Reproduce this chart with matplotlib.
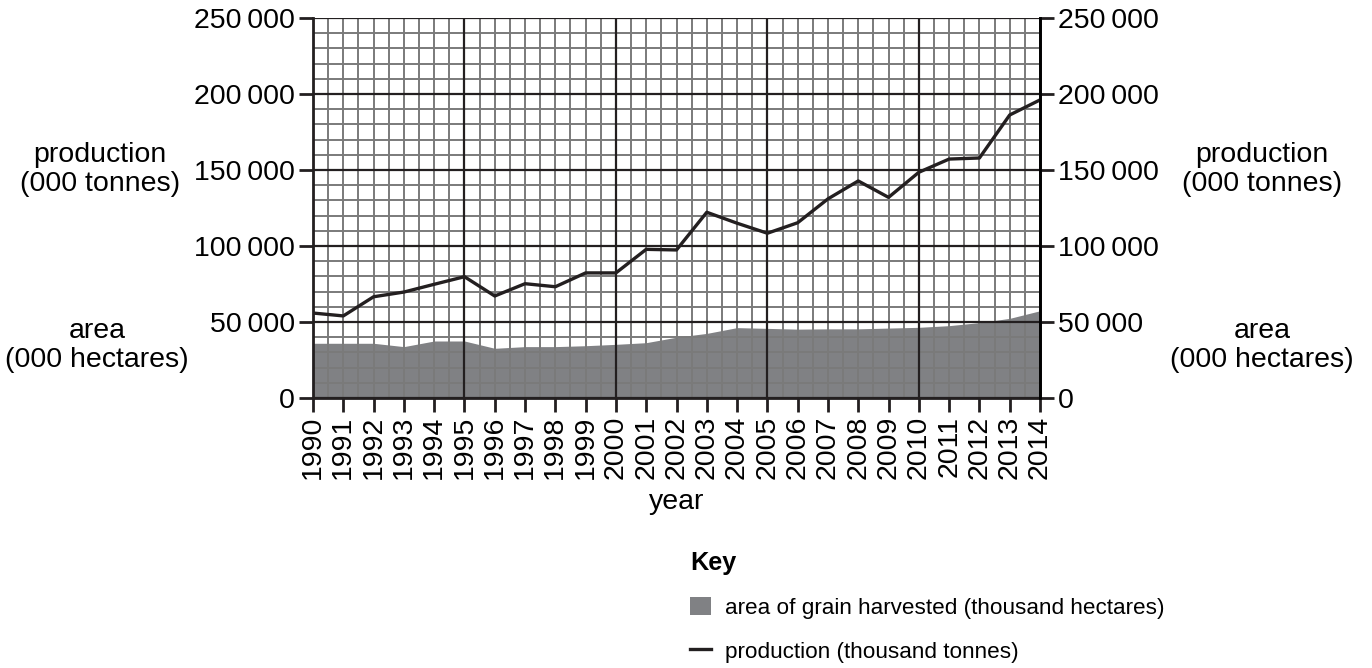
import matplotlib
matplotlib.use("Agg")
import matplotlib.pyplot as plt
from matplotlib import font_manager
import numpy as np
from matplotlib.patches import Patch
from matplotlib.lines import Line2D

plt.rcParams['font.family'] = ['Liberation Sans', 'DejaVu Sans']

years = np.arange(1990, 2015)
production = [55900, 54000, 66600, 69700, 74800, 79800, 67100, 75200, 73200, 82300,
              82300, 97800, 97400, 122200, 115000, 108400, 115300, 131000, 142800, 132000,
              148500, 157200, 157900, 186200, 196100]
area = [36000, 36000, 36000, 33800, 37500, 37500, 32700, 33800, 33800, 34400,
        35300, 36400, 40000, 42500, 46300, 45800, 45300, 45500, 45500, 46000,
        46500, 47600, 49600, 52400, 57400]
y_ticks = [0, 50000, 100000, 150000, 200000, 250000]

def fmt(v):
    return "{:,}".format(v).replace(",", "\u2009")

FS = 20.5
# the key in the original uses a condensed face
names = {f.name for f in font_manager.fontManager.ttflist}
if "Liberation Sans Narrow" in names:
    key_font, key_fs = "Liberation Sans Narrow", 19.5
else:
    key_font, key_fs = "Liberation Sans", 16.2

fig = plt.figure(figsize=(13.72, 6.68), dpi=100)
ax = fig.add_axes([313/1372, 1-398/668, 727/1372, 380/668])

ax.fill_between(years, 0, area, color="#808184", lw=0, zorder=1)

# graph paper grid
for x in np.arange(1990, 2014.01, 0.5):
    major = (x % 5 == 0)
    ax.axvline(x, color="#231f20" if major else "#7a7a7a", lw=1.6 if major else 1.4,
               zorder=2.2 if major else 2)
for y in np.arange(0, 250001, 10000):
    major = (y % 50000 == 0)
    ax.axhline(y, color="#231f20" if major else "#7a7a7a", lw=1.6 if major else 1.4,
               zorder=2.2 if major else 2)

ax.plot(years, production, color="#231f20", lw=2.4, zorder=3)

ax.set_xlim(1990, 2014)
ax.set_ylim(0, 250000)
ax.set_xticks(years)
ax.set_xticklabels([str(y) for y in years], rotation=90, fontsize=FS)
ax.set_yticks(y_ticks)
ax.set_yticklabels([fmt(v) for v in y_ticks], fontsize=FS)
ax.tick_params(direction="out", length=10, width=2, color="#231f20", pad=3)
for s in ax.spines.values():
    s.set_linewidth(2)
    s.set_color("#231f20")
ax.spines["top"].set_visible(False)
ax.set_xlabel("year", fontsize=FS, labelpad=7)

ax2 = ax.twinx()
ax2.set_ylim(0, 250000)
ax2.set_yticks(y_ticks)
ax2.set_yticklabels([fmt(v) for v in y_ticks], fontsize=FS)
ax2.tick_params(direction="out", length=10, width=2, color="#231f20", pad=3)
for s in ax2.spines.values():
    s.set_visible(False)
ax2.spines["right"].set_visible(True)
ax2.spines["right"].set_linewidth(2)

fig.text(100/1372, 1-170/668, "production\n(000 tonnes)", ha="center", va="center", fontsize=FS, linespacing=1.15)
fig.text(97/1372, 1-345/668, "area\n(000 hectares)", ha="center", va="center", fontsize=FS, linespacing=1.15)
fig.text(1262/1372, 1-170/668, "production\n(000 tonnes)", ha="center", va="center", fontsize=FS, linespacing=1.15)
fig.text(1262/1372, 1-345/668, "area\n(000 hectares)", ha="center", va="center", fontsize=FS, linespacing=1.15)

handles = [Patch(facecolor="#808184", edgecolor="none"),
           Line2D([0], [0], color="#231f20", lw=2.4)]
leg = fig.legend(handles, ["area of grain harvested (thousand hectares)", "production (thousand tonnes)"],
                 loc="upper left", bbox_to_anchor=(690/1372, 1-551/668), frameon=False,
                 borderpad=0, borderaxespad=0,
                 prop={"family": key_font, "size": key_fs},
                 title="Key", title_fontproperties={"family": key_font, "weight": "bold", "size": key_fs + 2},
                 alignment="left", handlelength=0.95, handleheight=0.85, handletextpad=0.6,
                 labelspacing=0.98)

fig.savefig("out.png", dpi=100)
